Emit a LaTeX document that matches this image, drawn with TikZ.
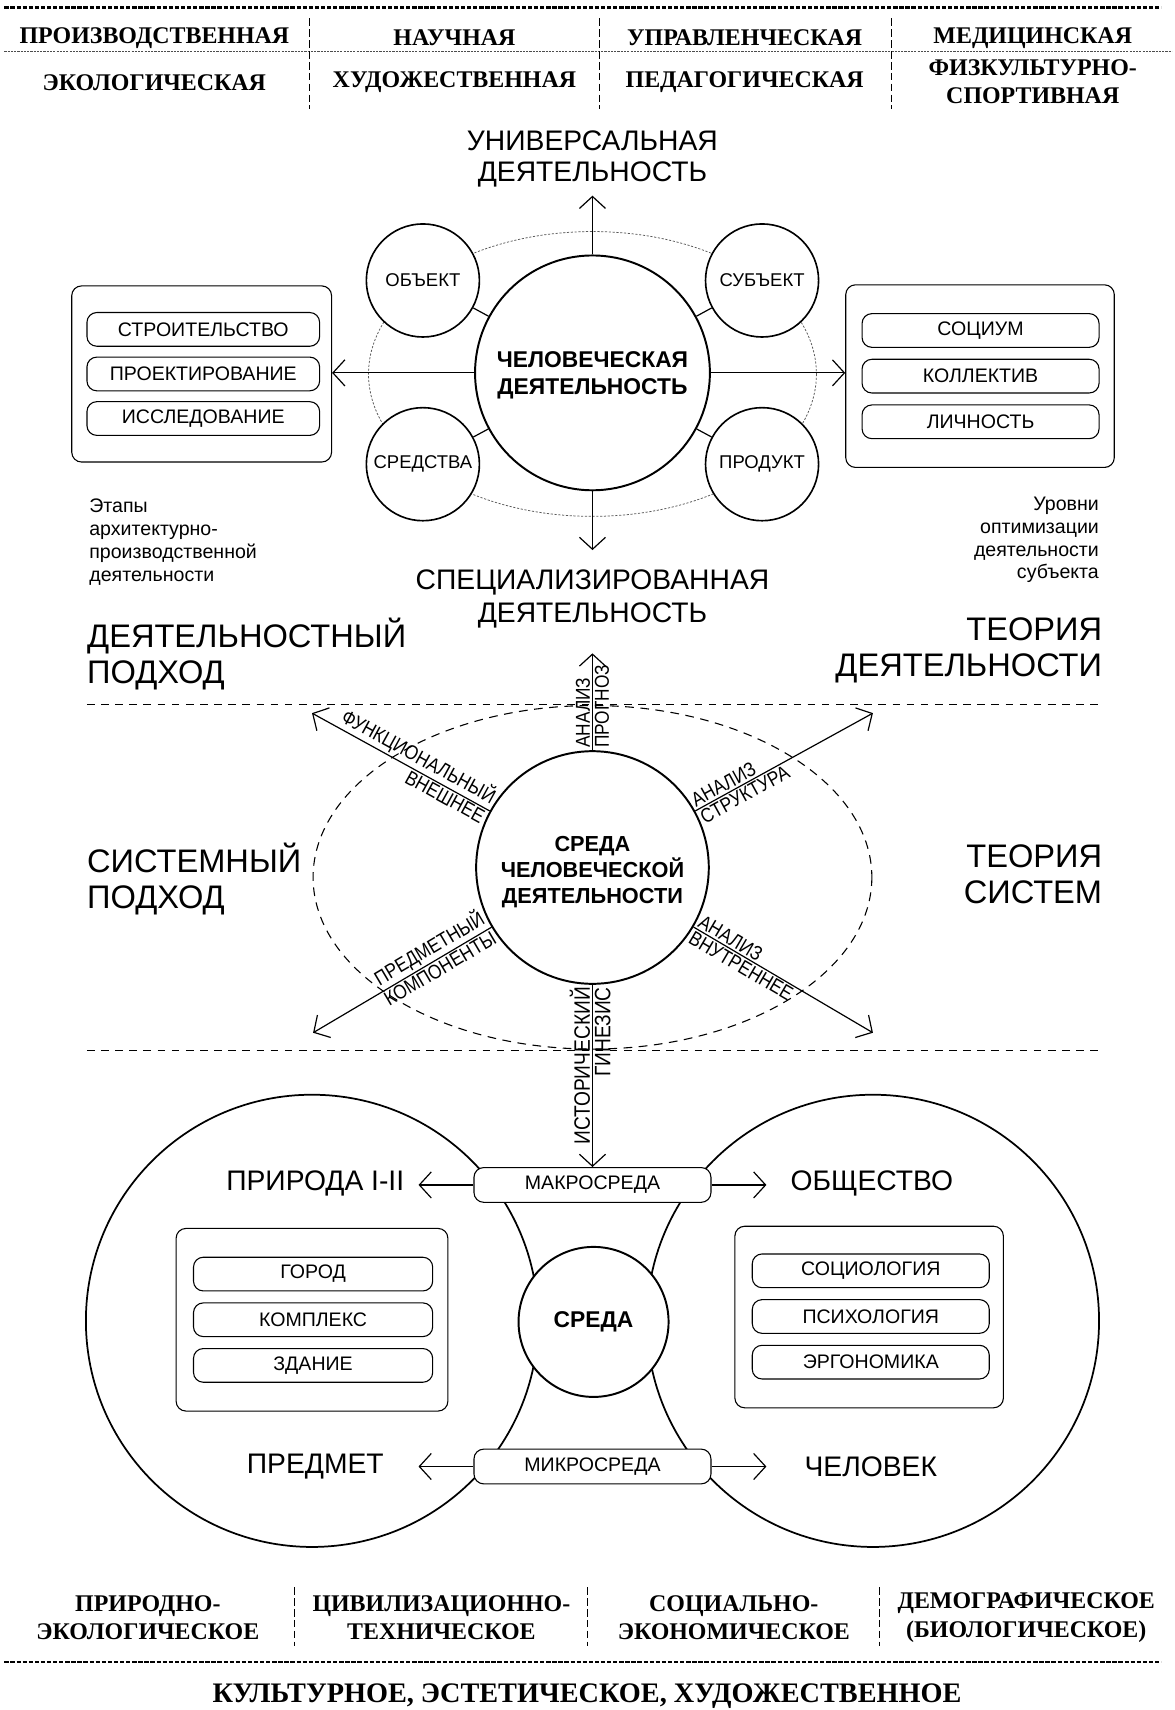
\documentclass[tikz,border=0pt]{standalone}
\usepackage{fontspec}
\setmainfont{Liberation Sans}
\newfontfamily\hdrfont{Liberation Serif}
\newfontfamily\narrowfont{Liberation Sans}[FakeStretch=0.86]
\usetikzlibrary{arrows.meta,calc}
\tikzset{
  arr/.style={line width=1.1pt,-{Straight Barb[length=11pt,width=24pt,line width=1.1pt]}},
  hdr/.style={font=\hdrfont\bfseries\fontsize{22pt}{26pt}\selectfont, align=center, inner sep=0pt},
  topdash/.style={line width=2.2pt, dash pattern=on 4pt off 1.6pt},
  middash/.style={line width=0.8pt, dash pattern=on 2pt off 1pt, black!70},
  vsep/.style={line width=0.9pt, dash pattern=on 7pt off 3pt},
  sepdash/.style={line width=1pt, dash pattern=on 7pt off 6pt},
  bigc/.style={draw, circle, line width=1.8pt, fill=white, align=center, inner sep=0pt},
  smallc/.style={draw, circle, line width=1.5pt, fill=white, minimum size=104pt, inner sep=0pt, font=\fontsize{17pt}{20pt}\selectfont},
  panel/.style={draw, rounded corners=9pt, line width=1pt, fill=white},
  pill/.style={draw, rounded corners=9pt, line width=1pt, fill=white, minimum height=31pt, inner sep=0pt, font=\fontsize{18pt}{20pt}\selectfont},
  biglbl/.style={font=\fontsize{26pt}{29pt}\selectfont, align=center, inner sep=0pt},
  sidelbl/.style={font=\fontsize{30pt}{33pt}\selectfont, inner sep=0pt},
  note/.style={font=\fontsize{18pt}{21pt}\selectfont, inner sep=0pt},
  rl/.style={font=\narrowfont\fontsize{18.5pt}{20pt}\selectfont, inner sep=2pt},
  rlb/.style={font=\narrowfont\fontsize{20.5pt}{22pt}\selectfont, inner sep=2pt},
  ctext/.style={font=\bfseries\fontsize{21pt}{25pt}\selectfont, align=center, inner sep=0pt},
  conn/.style={line width=1.1pt},
  dotell/.style={line width=0.7pt, dash pattern=on 2pt off 1.5pt, black!65},
  dashell/.style={line width=1pt, dash pattern=on 8pt off 6pt},
}
\begin{document}
\begin{tikzpicture}[x=1pt,y=-1pt]
\useasboundingbox (0,0) rectangle (1080,1573);
% ---------- header ----------
\draw[topdash] (4,7) -- (1068,7);
\draw[middash] (4,47) -- (1078,47);
\foreach \xx in {285,551,820}{\draw[vsep] (\xx,17) -- (\xx,100);}
\node[hdr] (h11) at (142,35) {ПРОИЗВОДСТВЕННАЯ};
\node[hdr] (h12) at (418,35) {НАУЧНАЯ};
\node[hdr] (h13) at (685,35) {УПРАВЛЕНЧЕСКАЯ};
\node[hdr] (h14) at (950,35) {МЕДИЦИНСКАЯ};
\node[hdr] (h21) at (142,76) {ЭКОЛОГИЧЕСКАЯ};
\node[hdr] (h22) at (418,76) {ХУДОЖЕСТВЕННАЯ};
\node[hdr] (h23) at (685,76) {ПЕДАГОГИЧЕСКАЯ};
\node[hdr] (h24) at (950,75) {ФИЗКУЛЬТУРНО-\\СПОРТИВНАЯ};
% ---------- activity section ----------
\draw[dotell] (545,344) ellipse [x radius=206, y radius=131];
\node[bigc, minimum size=216pt] (hum) at (545,343) {};
\node[ctext] (humText) at (545,345.5) {ЧЕЛОВЕЧЕСКАЯ\\ДЕЯТЕЛЬНОСТЬ};
\node[smallc] (obj) at (389,258) {ОБЪЕКТ};
\node[smallc] (subj) at (701,258) {СУБЪЕКТ};
\node[smallc] (means) at (389,427) {СРЕДСТВА};
\node[smallc] (prod) at (701,427) {ПРОДУКТ};
\foreach \c in {obj,subj,means,prod}{\draw[conn] (\c) -- (hum);}
\coordinate (univT) at (545,180);
\coordinate (specT) at (545,506);
\draw[arr] (hum) -- (univT);
\draw[arr] (hum) -- (specT);
\node[biglbl] (univ) at (545,146) {УНИВЕРСАЛЬНАЯ\\ДЕЯТЕЛЬНОСТЬ};
\node[biglbl, font=\fontsize{26pt}{30pt}\selectfont] (spec) at (545,551) {СПЕЦИАЛИЗИРОВАННАЯ\\ДЕЯТЕЛЬНОСТЬ};
\node[panel, minimum width=239pt, minimum height=162pt] (stages) at (185.5,344) {};
\node[pill, minimum width=214pt] (s1) at (187,303) {СТРОИТЕЛЬСТВО};
\node[pill, minimum width=214pt] (s2) at (187,344) {ПРОЕКТИРОВАНИЕ};
\node[pill, minimum width=214pt] (s3) at (187,385) {ИССЛЕДОВАНИЕ};
\node[panel, minimum width=247pt, minimum height=168pt] (levels) at (901.5,346) {};
\node[pill, minimum width=218pt] (l1) at (902,304) {СОЦИУМ};
\node[pill, minimum width=218pt] (l2) at (902,346) {КОЛЛЕКТИВ};
\node[pill, minimum width=218pt] (l3) at (902,388) {ЛИЧНОСТЬ};
\draw[arr] (hum.west) -- (hum.west -| stages.east);
\draw[arr] (hum.east) -- (hum.east -| levels.west);
\node[note, anchor=north west, align=left] (stagesNote) at (82,459) {Этапы\\архитектурно-\\производственной\\деятельности};
\node[note, anchor=north east, align=right] (levelsNote) at (1011,457) {Уровни\\оптимизации\\деятельности\\субъекта};
\node[sidelbl, anchor=north west, align=left] (actApp) at (80,568) {ДЕЯТЕЛЬНОСТНЫЙ\\ПОДХОД};
\node[sidelbl, anchor=north east, align=right] (actTh) at (1014,568) {ТЕОРИЯ\\ДЕЯТЕЛЬНОСТИ};
\draw[sepdash] (80,648) -- (1012,648);
\draw[sepdash] (80,966) -- (1012,966);
% ---------- system section ----------
\draw[dashell] (545,807) ellipse [x radius=257, y radius=158];
\node[bigc, minimum size=214pt] (env) at (545,798) {};
\node[ctext, font=\bfseries\fontsize{20pt}{24pt}\selectfont] (envText) at (545,802) {СРЕДА\\ЧЕЛОВЕЧЕСКОЙ\\ДЕЯТЕЛЬНОСТИ};
\coordinate (ulE) at (287,656);
\coordinate (urE) at (803,656);
\coordinate (llE) at (288,950);
\coordinate (lrE) at (803,950);
\coordinate (upE) at (545,601);
\draw[arr] (env) -- (ulE) coordinate[pos=0] (ulB);
\draw[arr] (env) -- (urE) coordinate[pos=0] (urB);
\draw[arr] (env) -- (llE) coordinate[pos=0] (llB);
\draw[arr] (env) -- (lrE) coordinate[pos=0] (lrB);
\draw[arr] (env) -- (upE);
\node[rl, rotate=-28.8, anchor=south east] (lUL1) at (ulB) {ФУНКЦИОНАЛЬНЫЙ};
\node[rl, rotate=-28.8, anchor=north east] (lUL2) at (ulB) {ВНЕШНЕЕ};
\node[rl, rotate=28.8, anchor=south west] (lUR1) at (urB) {АНАЛИЗ};
\node[rl, rotate=28.8, anchor=north west] (lUR2) at (urB) {СТРУКТУРА};
\node[rl, rotate=30.6, anchor=south east] (lLL1) at (llB) {ПРЕДМЕТНЫЙ};
\node[rl, rotate=30.6, anchor=north east] (lLL2) at (llB) {КОМПОНЕНТЫ};
\node[rl, rotate=-30.5, anchor=south west] (lLR1) at (lrB) {АНАЛИЗ};
\node[rl, rotate=-30.5, anchor=north west] (lLR2) at (lrB) {ВНУТРЕННЕЕ};
\node[rl, rotate=90, anchor=south west] (lU1) at (env.north) {АНАЛИЗ};
\node[rl, rotate=90, anchor=north west] (lU2) at (env.north) {ПРОГНОЗ};
\node[rlb, rotate=90, anchor=south east] (lD1) at (env.south) {ИСТОРИЧЕСКИЙ};
\node[rlb, rotate=90, anchor=north east] (lD2) at (env.south) {ГИНЕЗИС};
\node[sidelbl, anchor=north west, align=left] (sysApp) at (80,775) {СИСТЕМНЫЙ\\ПОДХОД};
\node[sidelbl, anchor=north east, align=right] (sysTh) at (1014,777) {ТЕОРИЯ\\СИСТЕМ};
% ---------- environment section ----------
\node[draw, circle, line width=1.6pt, minimum size=416pt] (natC) at (287,1215) {};
\node[draw, circle, line width=1.6pt, minimum size=416pt] (socC) at (803,1215) {};
\node[panel, minimum width=250pt, minimum height=168pt] (cityP) at (287,1214) {};
\node[pill, minimum width=220pt] (c1) at (288,1172) {ГОРОД};
\node[pill, minimum width=220pt] (c2) at (288,1214) {КОМПЛЕКС};
\node[pill, minimum width=220pt] (c3) at (288,1256) {ЗДАНИЕ};
\node[panel, minimum width=247pt, minimum height=167pt] (sciP) at (799.5,1211.5) {};
\node[pill, minimum width=218pt] (k1) at (801,1169) {СОЦИОЛОГИЯ};
\node[pill, minimum width=218pt] (k2) at (801,1211) {ПСИХОЛОГИЯ};
\node[pill, minimum width=218pt] (k3) at (801,1253) {ЭРГОНОМИКА};
\node[bigc, minimum size=138pt, font=\bfseries\fontsize{21pt}{24pt}\selectfont] (sreda) at (546,1216) {СРЕДА};
\node[pill, minimum width=218pt, minimum height=32pt] (macro) at (545,1090) {МАКРОСРЕДА};
\node[pill, minimum width=218pt, minimum height=32pt] (micro) at (545,1349) {МИКРОСРЕДА};
\draw[arr] (env.south) -- (env.south |- macro.north);
\node[biglbl] (prir) at (290,1089) {ПРИРОДА I-II};
\node[biglbl] (obsh) at (802,1089) {ОБЩЕСТВО};
\node[biglbl] (predm) at (290,1349) {ПРЕДМЕТ};
\node[biglbl] (chel) at (801,1349) {ЧЕЛОВЕК};
\coordinate (prirT) at (385,1090);
\coordinate (obshT) at (705,1090);
\coordinate (predmT) at (385,1349);
\coordinate (chelT) at (705,1349);
\draw[arr] (macro) -- (prirT);
\draw[arr] (macro) -- (obshT);
\draw[arr] (micro) -- (predmT);
\draw[arr] (micro) -- (chelT);
% ---------- footer ----------
\foreach \xx in {271,540,809}{\draw[vsep] (\xx,1460) -- (\xx,1514);}
\node[hdr] (b1) at (136,1488) {ПРИРОДНО-\\ЭКОЛОГИЧЕСКОЕ};
\node[hdr] (b2) at (406,1488) {ЦИВИЛИЗАЦИОННО-\\ТЕХНИЧЕСКОЕ};
\node[hdr] (b3) at (675,1488) {СОЦИАЛЬНО-\\ЭКОНОМИЧЕСКОЕ};
\node[hdr] (b4) at (944,1488) {ДЕМОГРАФИЧЕСКОЕ\\(БИОЛОГИЧЕСКОЕ)};
\draw[topdash] (4,1529) -- (1068,1529);
\node[hdr, font=\hdrfont\bfseries\fontsize{26pt}{30pt}\selectfont] (culture) at (540,1560) {КУЛЬТУРНОЕ, ЭСТЕТИЧЕСКОЕ, ХУДОЖЕСТВЕННОЕ};
\end{tikzpicture}
\end{document}
